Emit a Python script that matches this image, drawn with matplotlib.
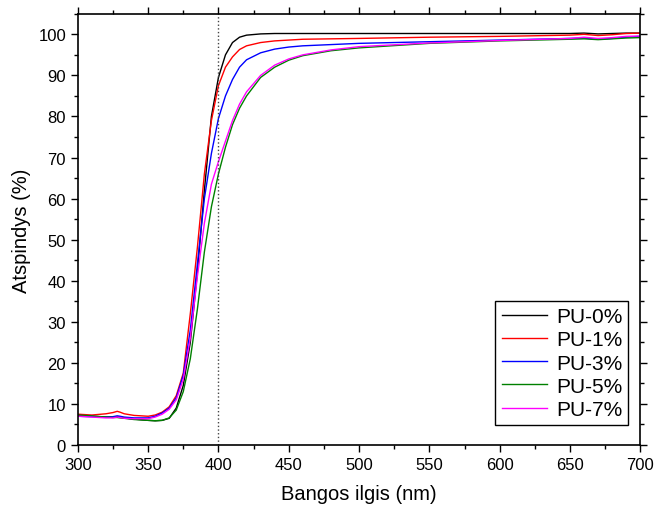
import matplotlib
import matplotlib.pyplot as plt
from matplotlib.ticker import MultipleLocator

plt.switch_backend('agg')
plt.rcParams['font.family'] = ['Liberation Sans', 'DejaVu Sans']

# wavelength grid (nm)
wl = [300, 310, 320, 325, 328, 330, 333, 340, 350, 355, 360, 365, 370, 375, 380,
      385, 390, 395, 400, 405, 410, 415, 420, 430, 440, 450, 460, 480, 500, 550,
      600, 650, 660, 670, 680, 690, 700]

pu0 = [7.2, 7.0, 6.8, 6.8, 6.9, 6.8, 6.6, 6.3, 6.0, 5.9, 6.0, 6.5, 9.0, 14.5, 25.0,
       42.0, 62.0, 80.0, 89.5, 95.0, 98.0, 99.3, 99.8, 100.1, 100.2, 100.2, 100.2, 100.2, 100.2, 100.2,
       100.2, 100.2, 100.3, 100.1, 100.2, 100.3, 100.3]
pu1 = [7.5, 7.3, 7.6, 7.9, 8.2, 8.0, 7.6, 7.2, 7.0, 7.3, 8.0, 9.3, 12.0, 17.5, 32.0,
       48.0, 66.0, 79.0, 87.5, 92.0, 94.5, 96.3, 97.2, 98.0, 98.4, 98.6, 98.8, 98.9, 99.0, 99.3,
       99.5, 99.8, 100.0, 99.7, 99.9, 100.2, 100.3]
pu3 = [7.0, 6.9, 6.8, 6.9, 7.1, 7.0, 6.8, 6.6, 6.6, 7.0, 7.8, 9.0, 11.5, 17.0, 28.0,
       44.0, 60.0, 71.0, 79.5, 85.0, 89.0, 92.0, 93.8, 95.5, 96.4, 96.9, 97.2, 97.5, 97.8, 98.2,
       98.6, 99.0, 99.1, 98.8, 99.0, 99.3, 99.5]
pu5 = [7.3, 7.1, 6.8, 6.7, 6.7, 6.6, 6.5, 6.2, 6.0, 5.9, 6.0, 6.6, 8.5, 13.0, 21.0,
       33.0, 47.0, 58.0, 66.0, 72.5, 78.0, 82.0, 85.0, 89.5, 92.0, 93.7, 94.8, 96.0, 96.7, 97.8,
       98.4, 98.8, 98.9, 98.7, 98.9, 99.1, 99.2]
pu7 = [7.0, 6.8, 6.6, 6.6, 6.8, 6.7, 6.5, 6.4, 6.4, 6.8, 7.5, 8.7, 11.0, 16.0, 26.0,
       41.0, 54.0, 63.5, 69.0, 74.0, 79.0, 83.0, 86.0, 90.0, 92.5, 94.0, 95.0, 96.2, 97.0, 97.9,
       98.5, 99.0, 99.3, 99.0, 99.2, 99.5, 99.6]

series = [
    ('PU-0%', pu0, 'black'),
    ('PU-1%', pu1, 'red'),
    ('PU-3%', pu3, 'blue'),
    ('PU-5%', pu5, '#008000'),
    ('PU-7%', pu7, 'magenta'),
]

fig = plt.figure(figsize=(6.54, 5.10), dpi=100)
ax = fig.add_axes([0.119, 0.1255, 0.860, 0.8455])

for label, ys, c in series:
    ax.plot(wl, ys, color=c, lw=1.0, label=label)

ax.axvline(400, color='#444444', ls=':', lw=1.0)

ax.set_xlim(300, 700)
ax.set_ylim(0, 105)
ax.xaxis.set_major_locator(MultipleLocator(50))
ax.xaxis.set_minor_locator(MultipleLocator(25))
ax.yaxis.set_major_locator(MultipleLocator(10))
ax.yaxis.set_minor_locator(MultipleLocator(5))
ax.tick_params(which='both', direction='out', top=True, right=True, labelsize=12, width=1)
ax.tick_params(which='major', length=5)
ax.tick_params(which='minor', length=3)
for sp in ax.spines.values():
    sp.set_linewidth(1.2)

ax.set_xlabel('Bangos ilgis (nm)', fontsize=14.5, labelpad=9)
ax.set_ylabel('Atspindys (%)', fontsize=14.5, labelpad=5)

leg = ax.legend(loc='lower right', bbox_to_anchor=(0.979, 0.046), borderaxespad=0,
                fontsize=15, fancybox=False, edgecolor='black', framealpha=1,
                handlelength=2.2, handletextpad=0.4, labelspacing=0.2, borderpad=0.3)
leg.get_frame().set_linewidth(1.0)

fig.savefig('out.png', dpi=100)
